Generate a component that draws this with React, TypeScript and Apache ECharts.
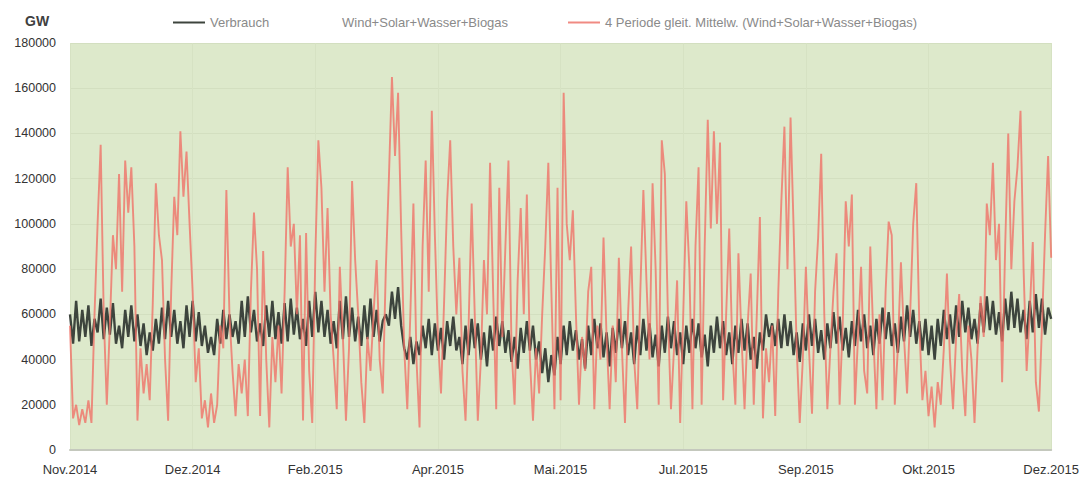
import React, { useEffect, useRef } from "react";
import * as echarts from "echarts";

// Tick labels along the x axis (every 40th point)
const tickLabels = ["Nov.2014", "Dez.2014", "Feb.2015", "Apr.2015", "Mai.2015", "Jul.2015", "Sep.2015", "Okt.2015", "Dez.2015"];
const labelStep = 40;

// Verbrauch (in thousands)
const verbrauchK = [
  60,47,66,48,62,50,64,46,58,52,
  67,49,63,51,65,47,55,45,62,50,
  64,48,60,46,56,42,52,44,58,47,
  63,49,66,50,62,47,57,45,64,50,
  66,48,61,46,55,43,50,42,58,47,
  62,49,60,50,57,47,66,50,68,52,
  62,48,56,46,64,50,66,49,61,47,
  65,48,67,51,63,49,58,46,66,50,
  70,52,66,50,62,47,57,45,66,49,
  68,50,63,48,59,46,64,49,67,50,
  62,48,57,60,55,70,58,72,55,45,
  40,50,38,48,42,55,45,58,42,56,
  44,54,40,57,46,59,44,50,38,55,
  42,58,45,56,40,52,37,55,44,59,
  46,57,43,53,39,50,36,54,43,57,
  44,55,40,48,34,45,30,42,33,50,
  38,55,42,57,44,53,40,49,36,55,
  42,58,45,56,41,52,37,54,43,58,
  45,57,42,52,38,55,42,58,44,56,
  41,51,37,55,43,59,45,57,42,52,
  38,55,43,58,45,56,41,51,37,55,
  43,59,45,57,42,52,38,55,43,58,
  44,56,40,50,36,52,44,60,50,56,
  46,58,45,60,46,57,42,52,39,56,
  44,60,46,58,43,53,40,56,45,61,
  47,59,44,54,41,57,46,62,48,60,
  45,55,42,58,47,63,49,61,46,56,
  43,59,48,64,50,62,47,57,44,58,
  42,55,40,58,46,62,49,60,47,64,
  50,66,52,63,49,58,47,65,52,68,
  53,66,51,61,48,67,53,70,54,67,
  52,62,49,66,52,69,54,67,51,63,
  58
];

// Wind+Solar+Wasser+Biogas, 4-period moving average (in thousands)
const erneuerbarK = [
  55,14,20,11,18,12,22,12,60,100,
  135,60,20,55,95,80,122,70,128,105,
  125,90,13,45,25,38,22,65,118,95,
  84,40,13,70,112,95,141,112,132,100,
  70,30,45,14,22,10,25,12,20,55,
  45,115,60,35,15,38,25,40,15,70,
  105,80,15,88,40,10,50,30,55,25,
  70,125,90,100,60,95,13,96,35,12,
  85,137,116,70,107,60,40,18,81,50,
  13,45,119,84,60,30,12,50,35,60,
  84,40,25,80,120,165,130,158,98,45,
  18,60,109,40,10,90,128,70,150,95,
  50,25,65,110,137,90,60,85,35,13,
  55,109,60,13,40,84,60,127,70,18,
  116,50,90,128,45,20,75,107,60,113,
  40,13,45,25,60,90,127,70,18,116,
  22,158,100,84,106,60,20,50,35,70,
  81,18,55,40,94,50,18,55,30,85,
  45,12,60,90,40,18,70,115,75,40,
  118,80,20,137,122,60,18,45,75,12,
  60,110,80,18,90,125,20,90,146,98,
  141,100,136,22,60,98,45,20,87,50,
  18,55,78,20,60,103,14,45,30,55,
  15,70,110,143,80,147,98,45,12,40,
  81,45,16,70,94,131,60,18,45,70,
  87,20,55,110,90,113,20,50,81,35,
  25,90,50,18,60,22,70,101,95,20,
  45,83,50,25,60,100,118,55,22,35,
  15,28,10,30,20,45,78,40,18,50,
  69,35,15,55,40,12,45,68,50,109,
  95,127,84,100,30,90,140,80,110,125,
  150,80,35,60,92,30,17,55,95,130,
  85
];

const verbrauch = verbrauchK.map((v) => v * 1000);
const erneuerbar = erneuerbarK.map((v) => v * 1000);
const categories = verbrauch.map((_, i) => (i % labelStep === 0 ? tickLabels[i / labelStep] : ""));

const FONT = "Liberation Sans";

export default function App() {
  const ref = useRef<HTMLDivElement>(null);
  useEffect(() => {
    if (!ref.current) return;
    const chart = echarts.init(ref.current, undefined, { renderer: "svg" });
    const legendText = { color: "#8a8a8a", fontSize: 13, fontFamily: FONT };
    chart.setOption({
      animation: false,
      backgroundColor: "#ffffff",
      title: {
        text: "GW",
        left: 20,
        top: 9,
        textStyle: { fontSize: 14, fontWeight: "bold", color: "#404040", fontFamily: FONT },
      },
      legend: [
        {
          data: ["Verbrauch"], left: 168, top: 11, icon: "rect", itemWidth: 32, itemHeight: 2,
          itemGap: 0, textStyle: legendText, selectedMode: false,
        },
        {
          data: ["Wind+Solar+Wasser+Biogas"], left: 300, top: 11, icon: "rect", itemWidth: 32, itemHeight: 2,
          textStyle: legendText, selectedMode: false,
        },
        {
          data: ["4 Periode gleit. Mittelw. (Wind+Solar+Wasser+Biogas)"], left: 563, top: 11, icon: "rect",
          itemWidth: 32, itemHeight: 2, textStyle: legendText, selectedMode: false,
        },
      ],
      grid: {
        left: 70, right: 27, top: 43, bottom: 34,
        show: true, backgroundColor: "#dde9cb", borderWidth: 0,
      },
      xAxis: {
        type: "category",
        boundaryGap: false,
        data: categories,
        axisLine: { show: true, lineStyle: { color: "#c4c8bd", width: 2 } },
        axisTick: { show: false },
        axisLabel: { interval: labelStep - 1, color: "#333", fontSize: 13, fontFamily: FONT, margin: 13 },
        splitLine: { show: true, interval: labelStep - 1, lineStyle: { color: "#d6e2c3", width: 1 } },
      },
      yAxis: {
        type: "value",
        min: 0,
        max: 180000,
        interval: 20000,
        axisLine: { show: false },
        axisTick: { show: false },
        axisLabel: {
          color: "#333", fontSize: 12.5, fontFamily: FONT, margin: 14,
          formatter: (v: number) => String(v),
        },
        splitLine: { show: true, lineStyle: { color: "#d3dfc0", width: 1 } },
      },
      series: [
        {
          name: "Verbrauch", type: "line", data: verbrauch, showSymbol: false,
          color: "#3d443d", lineStyle: { width: 2.4, color: "#3d443d" }, z: 2,
        },
        {
          name: "Wind+Solar+Wasser+Biogas", type: "line", data: erneuerbar, showSymbol: false,
          color: "rgba(0,0,0,0)", lineStyle: { width: 1, color: "rgba(0,0,0,0)" }, z: 1,
        },
        {
          name: "4 Periode gleit. Mittelw. (Wind+Solar+Wasser+Biogas)", type: "line", data: erneuerbar,
          showSymbol: false, color: "#f08a82",
          lineStyle: { width: 1.9, color: "#ef6f65", opacity: 0.78 }, z: 3,
        },
      ],
    });
    return () => chart.dispose();
  }, []);
  return <div ref={ref} style={{ position: "fixed", left: 0, top: 0, width: 1082, height: 484 }} />;
}
